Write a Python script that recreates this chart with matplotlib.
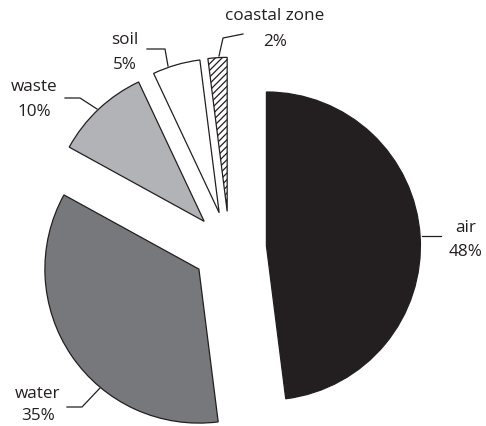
import matplotlib
matplotlib.use("Agg")
import matplotlib.pyplot as plt

labels = ["air", "water", "waste", "soil", "coastal zone"]
values = [48, 35, 10, 5, 2]
pct_labels = ["48%", "35%", "10%", "5%", "2%"]
colors = ["#231f20", "#77787b", "#b1b3b6", "#ffffff", "#ffffff"]
hatches = [None, None, None, None, "/////"]

W, H = 486, 427
fig = plt.figure(figsize=(W / 100, H / 100), dpi=100)
ax = fig.add_axes([0, 0, 1, 1])
ax.set_xlim(0, W)
ax.set_ylim(0, H)
ax.set_aspect("equal")
ax.axis("off")

plt.rcParams["hatch.linewidth"] = 0.9
edge = "#231f20"
cx, cy = 229.5, H - 249.3
R = 154
wedges, _ = ax.pie(values, explode=[37] * len(values), colors=colors,
                   startangle=90, counterclock=False, radius=R, center=(cx, cy),
                   wedgeprops=dict(edgecolor=edge, linewidth=0.9))
for w, h in zip(wedges, hatches):
    if h:
        w.set_hatch(h)
ax.set_xlim(0, W)
ax.set_ylim(0, H)

def py(y):
    return H - y

font = dict(family="Open Sans", fontsize=12.3, color=edge, ha="center", va="center")
# label positions (pixel coords): name line, percent line
label_pos = {
    "air": (466, 228, 252),
    "water": (38, 394, 416),
    "waste": (34, 87, 112),
    "soil": (125, 40, 65),
    "coastal zone": (275, 16, 42),
}
leaders = {
    "air": [(422, 237), (441, 237)],
    "water": [(100, 389), (82, 408), (67, 408)],
    "waste": [(97, 110), (80, 99), (65, 99)],
    "soil": [(168, 67), (165, 50), (147, 50)],
    "coastal zone": [(219, 57), (223, 39), (243, 35)],
}
for lab, pct in zip(labels, pct_labels):
    x, y1, y2 = label_pos[lab]
    ax.text(x, py(y1), lab, **font)
    ax.text(x, py(y2), pct, **font)
    pts = leaders[lab]
    ax.plot([p[0] for p in pts], [py(p[1]) for p in pts], color=edge, lw=0.9)

fig.savefig("out.png", dpi=100)
